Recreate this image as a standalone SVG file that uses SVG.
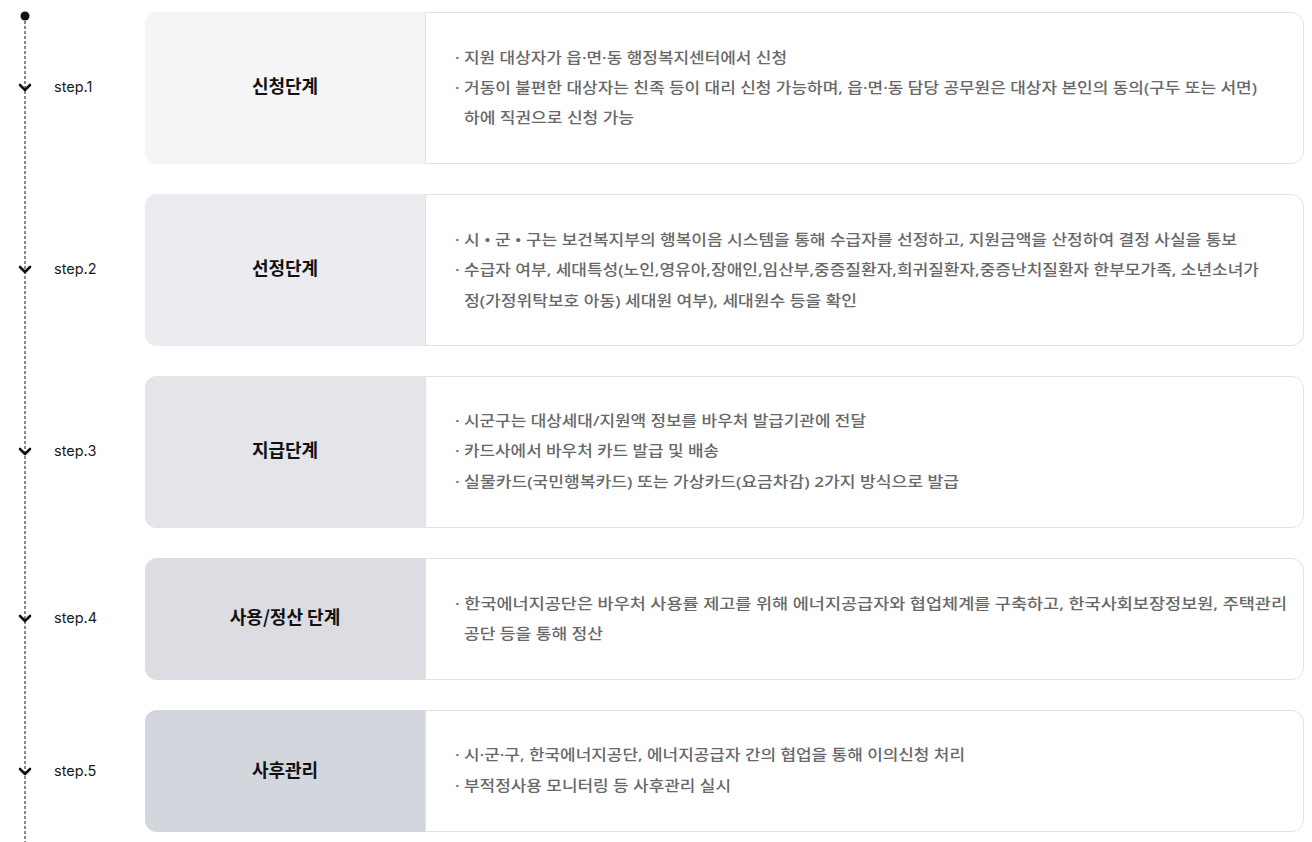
<svg xmlns="http://www.w3.org/2000/svg" width="1312" height="842" viewBox="0 0 1312 842">
<style>
.card{fill:#fff;stroke:#e2e2e4;stroke-width:1}
.div{stroke:#e2e2e4;stroke-width:1}
.title{font-family:"Noto Sans CJK KR","Noto Sans",sans-serif;font-size:18px;font-weight:700;fill:#111;text-anchor:middle}
.body{font-family:"Noto Sans","Noto Sans CJK KR",sans-serif;font-size:15px;font-weight:500;fill:#686868}
.step{font-family:Inter,"Liberation Sans",sans-serif;font-size:14.5px;fill:#1a1a1a}
.chev{fill:none;stroke:#111;stroke-width:2.6;stroke-linecap:round;stroke-linejoin:round}
</style>
<rect width="1312" height="842" fill="#fff"/>
<g id="timeline">
<line x1="25" y1="16" x2="25" y2="842" stroke="#111" stroke-width="1" stroke-dasharray="3,2"/>
<circle cx="25" cy="16" r="4.5" fill="#111"/>
</g>
<g id="connectors">
<path class="chev" d="M20 85 L25 90 L30 85"/>
<path class="chev" d="M20 267 L25 272 L30 267"/>
<path class="chev" d="M20 449 L25 454 L30 449"/>
<path class="chev" d="M20 616 L25 621 L30 616"/>
<path class="chev" d="M20 769 L25 774 L30 769"/>
</g>
<g id="step1">
<text class="step" x="54" y="92">step.1</text>
<rect class="card" x="145.5" y="12.5" width="1158" height="151" rx="12"/>
<path d="M157 12 H425 V164 H157 A12 12 0 0 1 145 152 V24 A12 12 0 0 1 157 12 Z" fill="#f5f5f7"/>
<line class="div" x1="425.5" y1="12" x2="425.5" y2="164"/>
<text class="title" x="285" y="93">신청단계</text>
<text class="body" x="455" y="63" textLength="332" lengthAdjust="spacingAndGlyphs">· 지원 대상자가 읍·면·동 행정복지센터에서 신청</text>
<text class="body" x="455" y="93" textLength="802" lengthAdjust="spacingAndGlyphs">· 거동이 불편한 대상자는 친족 등이 대리 신청 가능하며, 읍·면·동 담당 공무원은 대상자 본인의 동의(구두 또는 서면)</text>
<text class="body" x="464" y="123" textLength="170" lengthAdjust="spacingAndGlyphs">하에 직권으로 신청 가능</text>
</g>
<g id="step2">
<text class="step" x="54" y="274">step.2</text>
<rect class="card" x="145.5" y="194.5" width="1158" height="151" rx="12"/>
<path d="M157 194 H425 V346 H157 A12 12 0 0 1 145 334 V206 A12 12 0 0 1 157 194 Z" fill="#ececf0"/>
<line class="div" x1="425.5" y1="194" x2="425.5" y2="346"/>
<text class="title" x="285" y="275">선정단계</text>
<text class="body" x="455" y="245" textLength="782" lengthAdjust="spacingAndGlyphs">· 시 • 군 • 구는 보건복지부의 행복이음 시스템을 통해 수급자를 선정하고, 지원금액을 산정하여 결정 사실을 통보</text>
<text class="body" x="455" y="275" textLength="804" lengthAdjust="spacingAndGlyphs">· 수급자 여부, 세대특성(노인,영유아,장애인,임산부,중증질환자,희귀질환자,중증난치질환자 한부모가족, 소년소녀가</text>
<text class="body" x="464" y="306" textLength="393" lengthAdjust="spacingAndGlyphs">정(가정위탁보호 아동) 세대원 여부), 세대원수 등을 확인</text>
</g>
<g id="step3">
<text class="step" x="54" y="456">step.3</text>
<rect class="card" x="145.5" y="376.5" width="1158" height="151" rx="12"/>
<path d="M157 376 H425 V528 H157 A12 12 0 0 1 145 516 V388 A12 12 0 0 1 157 376 Z" fill="#e4e5e9"/>
<line class="div" x1="425.5" y1="376" x2="425.5" y2="528"/>
<text class="title" x="285" y="457">지급단계</text>
<text class="body" x="455" y="426" textLength="411" lengthAdjust="spacingAndGlyphs">· 시군구는 대상세대/지원액 정보를 바우처 발급기관에 전달</text>
<text class="body" x="455" y="456" textLength="264" lengthAdjust="spacingAndGlyphs">· 카드사에서 바우처 카드 발급 및 배송</text>
<text class="body" x="455" y="487" textLength="504" lengthAdjust="spacingAndGlyphs">· 실물카드(국민행복카드) 또는 가상카드(요금차감) 2가지 방식으로 발급</text>
</g>
<g id="step4">
<text class="step" x="54" y="623">step.4</text>
<rect class="card" x="145.5" y="558.5" width="1158" height="121" rx="12"/>
<path d="M157 558 H425 V680 H157 A12 12 0 0 1 145 668 V570 A12 12 0 0 1 157 558 Z" fill="#dcdde2"/>
<line class="div" x1="425.5" y1="558" x2="425.5" y2="680"/>
<text class="title" x="285" y="624">사용/정산 단계</text>
<text class="body" x="455" y="609" textLength="832" lengthAdjust="spacingAndGlyphs">· 한국에너지공단은 바우처 사용률 제고를 위해 에너지공급자와 협업체계를 구축하고, 한국사회보장정보원, 주택관리</text>
<text class="body" x="464" y="639" textLength="139" lengthAdjust="spacingAndGlyphs">공단 등을 통해 정산</text>
</g>
<g id="step5">
<text class="step" x="54" y="776">step.5</text>
<rect class="card" x="145.5" y="710.5" width="1158" height="121" rx="12"/>
<path d="M157 710 H425 V832 H157 A12 12 0 0 1 145 820 V722 A12 12 0 0 1 157 710 Z" fill="#d3d6dd"/>
<line class="div" x1="425.5" y1="710" x2="425.5" y2="832"/>
<text class="title" x="285" y="777">사후관리</text>
<text class="body" x="455" y="760" textLength="510" lengthAdjust="spacingAndGlyphs">· 시·군·구, 한국에너지공단, 에너지공급자 간의 협업을 통해 이의신청 처리</text>
<text class="body" x="455" y="791" textLength="276" lengthAdjust="spacingAndGlyphs">· 부적정사용 모니터링 등 사후관리 실시</text>
</g>
</svg>
